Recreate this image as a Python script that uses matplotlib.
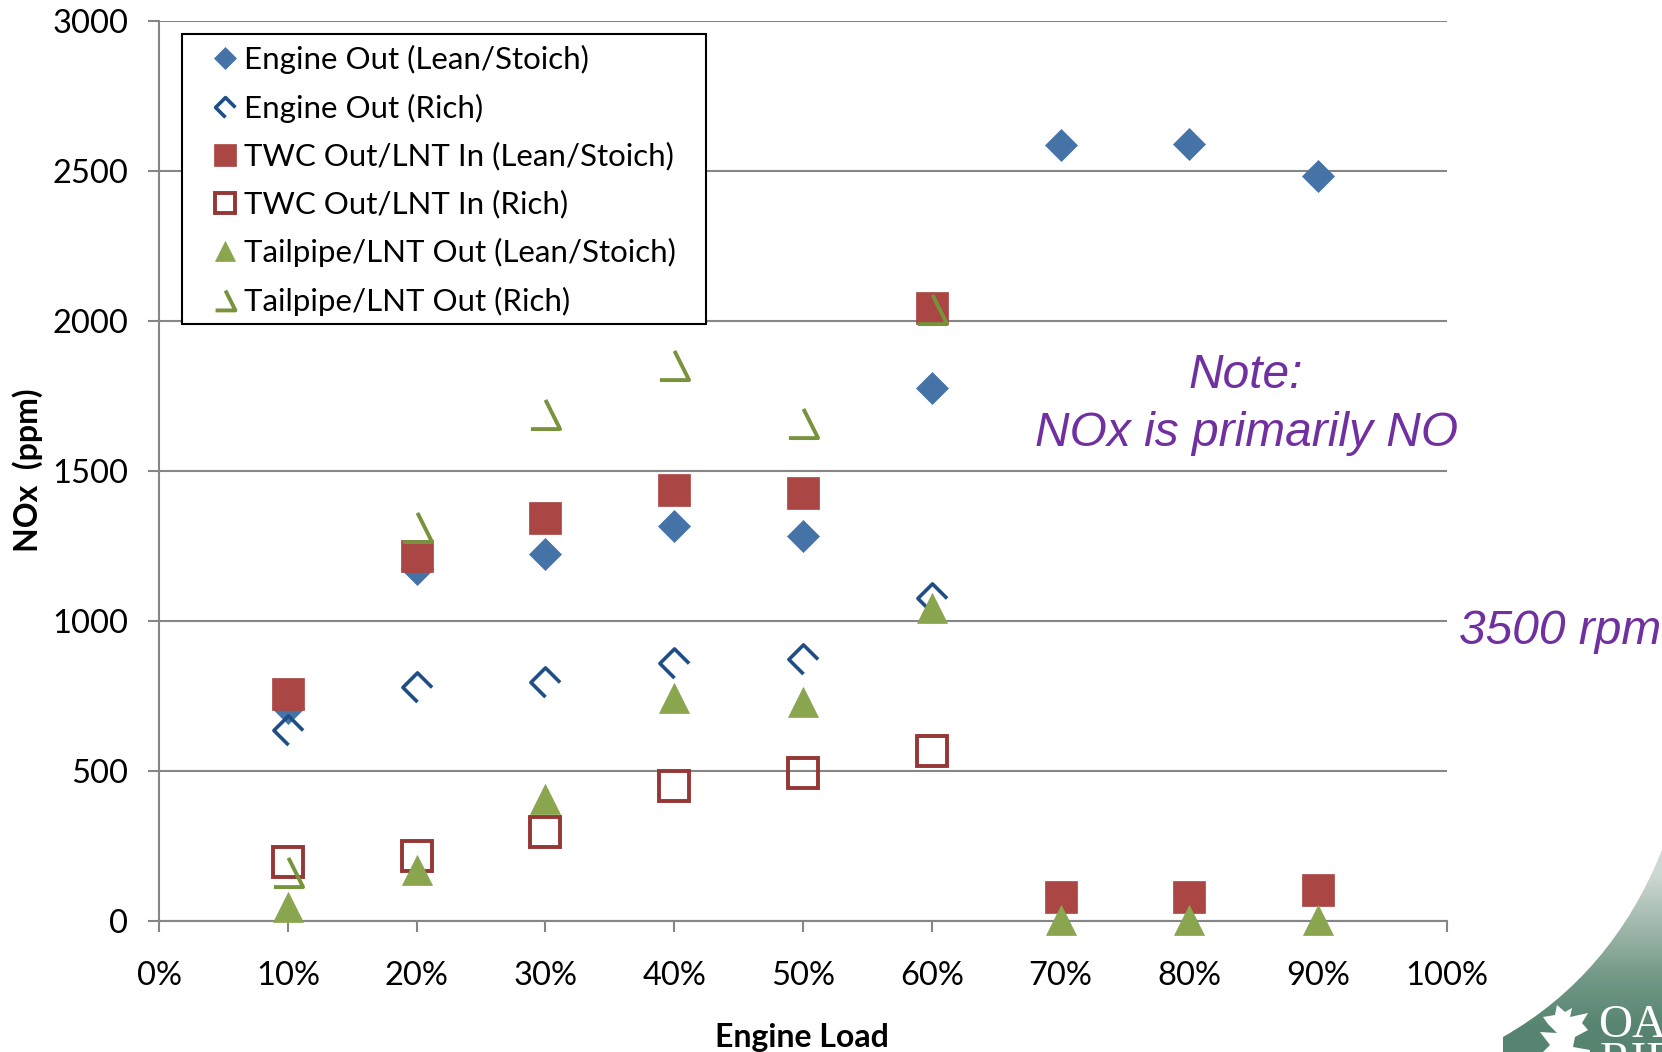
import numpy as np
import matplotlib
matplotlib.use('Agg')
import matplotlib.pyplot as plt
from matplotlib.path import Path
from matplotlib.patches import PathPatch, Polygon, Rectangle
from matplotlib.ticker import PercentFormatter

load = [10, 20, 30, 40, 50, 60, 70, 80, 90]
load_rich = [10, 20, 30, 40, 50, 60]

engine_lean = [710, 1172, 1225, 1317, 1285, 1778, 2587, 2590, 2482]
engine_rich = [636, 780, 797, 861, 875, 1076]
twc_lean = [756, 1218, 1344, 1437, 1426, 2045, 81, 80, 102]
twc_rich = [197, 216, 296, 451, 494, 568]
tail_lean = [47, 171, 406, 744, 730, 1042, 3, 3, 5]
tail_rich = [165, 1312, 1689, 1855, 1660, 2040]

BLUE = '#4572a7'
DARK_BLUE = '#1f4e86'
RED = '#aa4643'
DARK_RED = '#953735'
GREEN = '#89a54e'
DARK_GREEN = '#77933c'
PURPLE = '#7030a0'
GRID = '#868686'

# open markers: the outline stops short of closing on one side
CHEVRON = Path([(1, 0), (0, 1), (-1, 0), (0, -1)])
OPEN_TRI = Path([(0, 1), (1, -1), (-1, -1)])

W, H = 1662, 1052
plt.rcParams['font.family'] = ['Lato', 'DejaVu Sans']

fig = plt.figure(figsize=(W / 100, H / 100), dpi=100)
ax = fig.add_axes([159 / W, 1 - 921 / H, (1447 - 159) / W, (921 - 21) / H])

ax.plot(load, engine_lean, ls='none', marker='D', ms=16.5, mfc=BLUE, mec=BLUE, mew=0.5,
        label='Engine Out (Lean/Stoich)', clip_on=False, zorder=3)
ax.plot(load_rich, engine_rich, ls='none', marker=CHEVRON, ms=21, mfc='none', mec=DARK_BLUE,
        mew=2.6, label='Engine Out (Rich)', clip_on=False, zorder=4)
ax.plot(load, twc_lean, ls='none', marker='s', ms=23, mfc=RED, mec=RED, mew=0.5,
        label='TWC Out/LNT In (Lean/Stoich)', clip_on=False, zorder=3.5)
ax.plot(load_rich, twc_rich, ls='none', marker='s', ms=21.5, mfc='none', mec=DARK_RED,
        mew=2.8, label='TWC Out/LNT In (Rich)', clip_on=False, zorder=4)
ax.plot(load, tail_lean, ls='none', marker='^', ms=22, mfc=GREEN, mec=GREEN, mew=0.5,
        label='Tailpipe/LNT Out (Lean/Stoich)', clip_on=False, zorder=5)
ax.plot(load_rich, tail_rich, ls='none', marker=OPEN_TRI, ms=21, mfc='none', mec=DARK_GREEN,
        mew=2.8, label='Tailpipe/LNT Out (Rich)', clip_on=False, zorder=5)

ax.set_xlim(0, 100)
ax.set_ylim(0, 3000)
ax.set_xticks(np.arange(0, 101, 10))
ax.set_yticks(np.arange(0, 3001, 500))
ax.xaxis.set_major_formatter(PercentFormatter(decimals=0))
ax.grid(axis='y', color=GRID, lw=1.5, zorder=1)
ax.set_axisbelow(True)
for side in ['top', 'right']:
    ax.spines[side].set_visible(False)
for side in ['left', 'bottom']:
    ax.spines[side].set_color(GRID)
    ax.spines[side].set_linewidth(1.5)
ax.tick_params(axis='y', length=8, width=1.5, color=GRID, labelsize=23.5, pad=14)
ax.tick_params(axis='x', length=8, width=1.5, color=GRID, labelsize=23.5, pad=21)

fig.text(28 / W, 1 - 470 / H, 'NOx  (ppm)', rotation=90, ha='center', va='center',
         fontsize=23, fontweight='bold')
fig.text(802 / W, 1 - 1037 / H, 'Engine Load', ha='center', va='center',
         fontsize=23, fontweight='bold')

# frame sits behind the entries, with wider side padding than the legend would give
ax.add_patch(Rectangle((182 / W, 1 - 324 / H), (706 - 182) / W, (324 - 34) / H,
                       transform=fig.transFigure, fc='white', ec='black', lw=1.5,
                       clip_on=False, zorder=5.9))
leg = ax.legend(loc='upper left', bbox_to_anchor=(209 / W, 1 - 45 / H),
                bbox_transform=fig.transFigure, fontsize=22.5, frameon=False,
                markerscale=0.68, borderpad=0, labelspacing=0.62, handlelength=1.0,
                handletextpad=0.12, borderaxespad=0, numpoints=1)
leg.set_zorder(6)

fig.text(1246 / W, 1 - 376 / H, 'Note:', ha='center', va='center', color=PURPLE,
         fontsize=34.5, style='italic', family='Liberation Sans')
fig.text(1247 / W, 1 - 434 / H, 'NOx is primarily NO', ha='center', va='center', color=PURPLE,
         fontsize=34.5, style='italic', family='Liberation Sans')
fig.text(1459 / W, 1 - 632 / H, '3500 rpm', ha='left', va='center', color=PURPLE,
         fontsize=34.5, style='italic', family='Liberation Sans')

# corner logo, drawn in pixel coordinates on a full-figure overlay
over = fig.add_axes([0, 0, 1, 1], facecolor='none')
over.set_axis_off()
wedge = Path([(1503, 1037), (1612, 975), (1662, 850), (1662, 1052), (1503, 1052), (1503, 1037)],
             [Path.MOVETO, Path.CURVE3, Path.CURVE3, Path.LINETO, Path.LINETO, Path.CLOSEPOLY])
shade = np.array([[0.80, 0.85, 0.82], [0.63, 0.72, 0.67], [0.45, 0.60, 0.53],
                  [0.34, 0.52, 0.44]]).reshape(4, 1, 3)
img = over.imshow(shade, extent=(1503, 1662, 1052, 850), aspect='auto', interpolation='bilinear')
img.set_clip_path(PathPatch(wedge, transform=over.transData))
over.set_xlim(0, W)
over.set_ylim(H, 0)

leaf = [(1557, 1005), (1565, 1012), (1572, 1008), (1570, 1017), (1588, 1013), (1582, 1023),
        (1588, 1030), (1575, 1037), (1573, 1047), (1590, 1050), (1590, 1052), (1543, 1052),
        (1550, 1045), (1540, 1032), (1557, 1033), (1548, 1024), (1543, 1017), (1555, 1015)]
over.add_patch(Polygon(leaf, closed=True, fc='white', ec='none'))
over.text(1598, 1037, 'OAK', color='white', fontsize=34, family='Liberation Serif',
          ha='left', va='baseline')
over.text(1600, 1074, 'RIDGE', color='white', fontsize=34, family='Liberation Serif',
          ha='left', va='baseline')

fig.savefig('out.png', dpi=100)
